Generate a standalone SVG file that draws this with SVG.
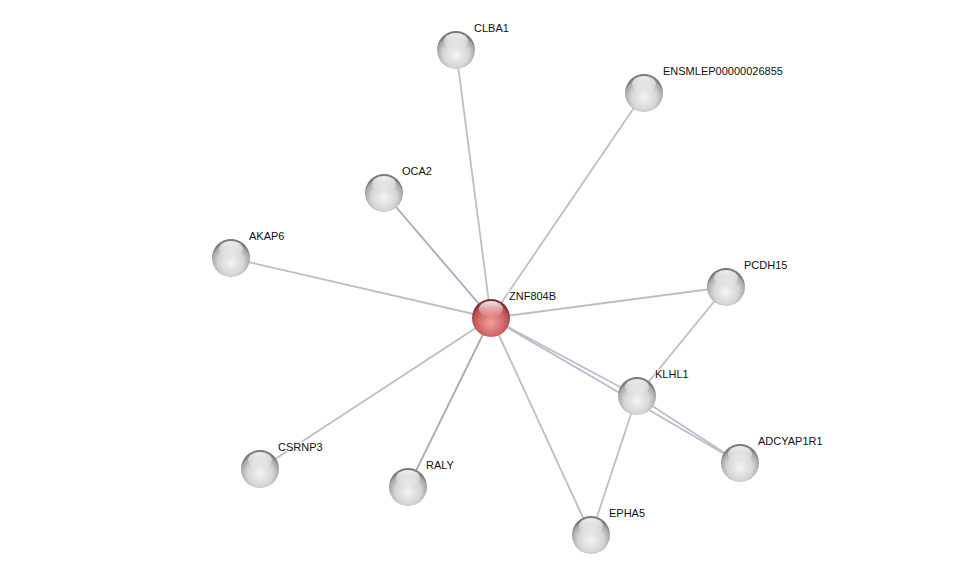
<svg xmlns="http://www.w3.org/2000/svg" width="975" height="580" viewBox="0 0 975 580">
<style>
.e{stroke:#bcbccc;stroke-width:1.8;fill:none}
.lb{font-family:"Liberation Sans",Arial,sans-serif;font-size:11px;fill:#111;paint-order:stroke;stroke:#fff;stroke-width:2.5px;stroke-opacity:0.8}
</style>
<defs>
<radialGradient id="g" cx="0.5" cy="0.62" r="0.55">
<stop offset="0" stop-color="#f4f4f4"/>
<stop offset="0.6" stop-color="#d6d6d6"/>
<stop offset="0.9" stop-color="#a8a8a8"/>
<stop offset="1" stop-color="#7a7a7a"/>
</radialGradient>
<radialGradient id="r" cx="0.5" cy="0.62" r="0.55">
<stop offset="0" stop-color="#f0a0a0"/>
<stop offset="0.6" stop-color="#d46a6a"/>
<stop offset="0.9" stop-color="#b04a4a"/>
<stop offset="1" stop-color="#7a3030"/>
</radialGradient>
<linearGradient id="h" x1="0" y1="0" x2="0" y2="1">
<stop offset="0" stop-color="#fff" stop-opacity="0.9"/>
<stop offset="1" stop-color="#fff" stop-opacity="0"/>
</linearGradient>
<g id="sp"><circle r="19" fill="url(#g)"/><ellipse cx="0" cy="-9" rx="12" ry="8" fill="url(#h)"/></g>
<g id="spr"><circle r="19" fill="url(#r)"/><ellipse cx="0" cy="-9" rx="12" ry="8" fill="url(#h)"/></g>
</defs>
<rect width="975" height="580" fill="#fff"/>
<g id="edges">
<line class="e" x1="491" y1="318" x2="456" y2="50"/>
<line class="e" x1="491" y1="318" x2="644" y2="93"/>
<line class="e" x1="491" y1="318" x2="384" y2="193" style="stroke:#a8a8c0"/>
<line class="e" x1="491" y1="318" x2="231" y2="258"/>
<line class="e" x1="491" y1="318" x2="726" y2="287"/>
<line class="e" x1="491" y1="318" x2="637" y2="396"/>
<line class="e" x1="491" y1="318" x2="740" y2="463"/>
<line class="e" x1="491" y1="318" x2="591" y2="535"/>
<line class="e" x1="491" y1="318" x2="408" y2="487" style="stroke:#a8a8c0"/>
<line class="e" x1="491" y1="318" x2="260" y2="469"/>
<line class="e" x1="726" y1="287" x2="637" y2="396"/>
<line class="e" x1="637" y1="396" x2="591" y2="535"/>
<line class="e" x1="637" y1="396" x2="740" y2="463"/>
</g>
<g id="n-CLBA1"><use href="#sp" x="456" y="50"/><text class="lb" x="474" y="32">CLBA1</text></g>
<g id="n-ENSMLEP"><use href="#sp" x="644" y="93"/><text class="lb" x="663" y="75">ENSMLEP00000026855</text></g>
<g id="n-OCA2"><use href="#sp" x="384" y="193"/><text class="lb" x="402" y="175">OCA2</text></g>
<g id="n-AKAP6"><use href="#sp" x="231" y="258"/><text class="lb" x="249" y="240">AKAP6</text></g>
<g id="n-PCDH15"><use href="#sp" x="726" y="287"/><text class="lb" x="744" y="269">PCDH15</text></g>
<g id="n-KLHL1"><use href="#sp" x="637" y="396"/><text class="lb" x="655" y="378">KLHL1</text></g>
<g id="n-ADCYAP1R1"><use href="#sp" x="740" y="463"/><text class="lb" x="758" y="445">ADCYAP1R1</text></g>
<g id="n-EPHA5"><use href="#sp" x="591" y="535"/><text class="lb" x="609" y="517">EPHA5</text></g>
<g id="n-RALY"><use href="#sp" x="408" y="487"/><text class="lb" x="426" y="469">RALY</text></g>
<g id="n-CSRNP3"><use href="#sp" x="260" y="469"/><text class="lb" x="278" y="451">CSRNP3</text></g>
<g id="n-ZNF804B"><use href="#spr" x="491" y="318"/><text class="lb" x="509" y="300">ZNF804B</text></g>
</svg>
